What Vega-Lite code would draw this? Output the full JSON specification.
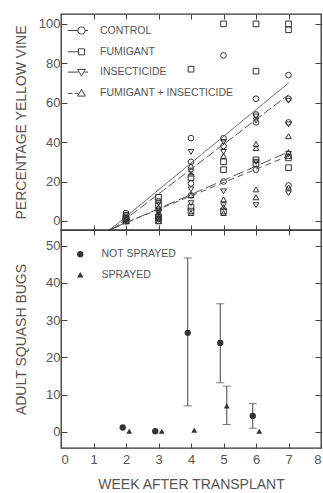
{
  "$schema": "https://vega.github.io/schema/vega-lite/v6.json",
  "padding": {"left": 13, "top": 12, "right": 0, "bottom": 0},
  "spacing": 0,
  "bounds": "flush",
  "config": {
    "font": "Liberation Sans",
    "view": {"stroke": "#333", "strokeWidth": 1.3},
    "axis": {"domain": false, "grid": false, "tickColor": "#444", "tickWidth": 1, "labelColor": "#555", "labelFontSize": 13, "titleColor": "#555", "titleFontSize": 14, "titleFontWeight": "normal", "labelFont": "Liberation Sans", "titleFont": "Liberation Sans"},
    "legend": {"labelFont": "Liberation Sans", "labelColor": "#555", "labelFontSize": 10.5}
  },
  "datasets": {
    "pts": [
      {"week": 2, "treatment": "CONTROL", "pct": 4}, {"week": 2, "treatment": "CONTROL", "pct": 3}, {"week": 2, "treatment": "CONTROL", "pct": 1}, {"week": 2, "treatment": "CONTROL", "pct": 0},
      {"week": 2, "treatment": "FUMIGANT", "pct": 2}, {"week": 2, "treatment": "FUMIGANT", "pct": 1}, {"week": 2, "treatment": "FUMIGANT", "pct": 0}, {"week": 2, "treatment": "FUMIGANT", "pct": 0},
      {"week": 2, "treatment": "INSECTICIDE", "pct": 3}, {"week": 2, "treatment": "INSECTICIDE", "pct": 1}, {"week": 2, "treatment": "INSECTICIDE", "pct": 0}, {"week": 2, "treatment": "INSECTICIDE", "pct": 0},
      {"week": 2, "treatment": "FUMIGANT + INSECTICIDE", "pct": 2}, {"week": 2, "treatment": "FUMIGANT + INSECTICIDE", "pct": 0}, {"week": 2, "treatment": "FUMIGANT + INSECTICIDE", "pct": 1}, {"week": 2, "treatment": "FUMIGANT + INSECTICIDE", "pct": 0},
      {"week": 3, "treatment": "CONTROL", "pct": 10}, {"week": 3, "treatment": "CONTROL", "pct": 6}, {"week": 3, "treatment": "CONTROL", "pct": 3}, {"week": 3, "treatment": "CONTROL", "pct": 1},
      {"week": 3, "treatment": "FUMIGANT", "pct": 12}, {"week": 3, "treatment": "FUMIGANT", "pct": 8}, {"week": 3, "treatment": "FUMIGANT", "pct": 2}, {"week": 3, "treatment": "FUMIGANT", "pct": 0},
      {"week": 3, "treatment": "INSECTICIDE", "pct": 9}, {"week": 3, "treatment": "INSECTICIDE", "pct": 5}, {"week": 3, "treatment": "INSECTICIDE", "pct": 4}, {"week": 3, "treatment": "INSECTICIDE", "pct": 1},
      {"week": 3, "treatment": "FUMIGANT + INSECTICIDE", "pct": 7}, {"week": 3, "treatment": "FUMIGANT + INSECTICIDE", "pct": 3}, {"week": 3, "treatment": "FUMIGANT + INSECTICIDE", "pct": 0}, {"week": 3, "treatment": "FUMIGANT + INSECTICIDE", "pct": 2},
      {"week": 4, "treatment": "CONTROL", "pct": 42}, {"week": 4, "treatment": "CONTROL", "pct": 30}, {"week": 4, "treatment": "CONTROL", "pct": 19}, {"week": 4, "treatment": "CONTROL", "pct": 13},
      {"week": 4, "treatment": "FUMIGANT", "pct": 77}, {"week": 4, "treatment": "FUMIGANT", "pct": 22}, {"week": 4, "treatment": "FUMIGANT", "pct": 7}, {"week": 4, "treatment": "FUMIGANT", "pct": 5},
      {"week": 4, "treatment": "INSECTICIDE", "pct": 35}, {"week": 4, "treatment": "INSECTICIDE", "pct": 25}, {"week": 4, "treatment": "INSECTICIDE", "pct": 16}, {"week": 4, "treatment": "INSECTICIDE", "pct": 9},
      {"week": 4, "treatment": "FUMIGANT + INSECTICIDE", "pct": 28}, {"week": 4, "treatment": "FUMIGANT + INSECTICIDE", "pct": 24}, {"week": 4, "treatment": "FUMIGANT + INSECTICIDE", "pct": 13}, {"week": 4, "treatment": "FUMIGANT + INSECTICIDE", "pct": 4},
      {"week": 5, "treatment": "CONTROL", "pct": 84}, {"week": 5, "treatment": "CONTROL", "pct": 42}, {"week": 5, "treatment": "CONTROL", "pct": 38}, {"week": 5, "treatment": "CONTROL", "pct": 20},
      {"week": 5, "treatment": "FUMIGANT", "pct": 100}, {"week": 5, "treatment": "FUMIGANT", "pct": 30}, {"week": 5, "treatment": "FUMIGANT", "pct": 26}, {"week": 5, "treatment": "FUMIGANT", "pct": 5},
      {"week": 5, "treatment": "INSECTICIDE", "pct": 40}, {"week": 5, "treatment": "INSECTICIDE", "pct": 35}, {"week": 5, "treatment": "INSECTICIDE", "pct": 15}, {"week": 5, "treatment": "INSECTICIDE", "pct": 8},
      {"week": 5, "treatment": "FUMIGANT + INSECTICIDE", "pct": 33}, {"week": 5, "treatment": "FUMIGANT + INSECTICIDE", "pct": 11}, {"week": 5, "treatment": "FUMIGANT + INSECTICIDE", "pct": 7}, {"week": 5, "treatment": "FUMIGANT + INSECTICIDE", "pct": 4},
      {"week": 6, "treatment": "CONTROL", "pct": 62}, {"week": 6, "treatment": "CONTROL", "pct": 54}, {"week": 6, "treatment": "CONTROL", "pct": 26}, {"week": 6, "treatment": "CONTROL", "pct": 50},
      {"week": 6, "treatment": "FUMIGANT", "pct": 100}, {"week": 6, "treatment": "FUMIGANT", "pct": 76}, {"week": 6, "treatment": "FUMIGANT", "pct": 31}, {"week": 6, "treatment": "FUMIGANT", "pct": 29},
      {"week": 6, "treatment": "INSECTICIDE", "pct": 51}, {"week": 6, "treatment": "INSECTICIDE", "pct": 53}, {"week": 6, "treatment": "INSECTICIDE", "pct": 8}, {"week": 6, "treatment": "INSECTICIDE", "pct": 30},
      {"week": 6, "treatment": "FUMIGANT + INSECTICIDE", "pct": 39}, {"week": 6, "treatment": "FUMIGANT + INSECTICIDE", "pct": 37}, {"week": 6, "treatment": "FUMIGANT + INSECTICIDE", "pct": 16}, {"week": 6, "treatment": "FUMIGANT + INSECTICIDE", "pct": 12},
      {"week": 7, "treatment": "CONTROL", "pct": 74}, {"week": 7, "treatment": "CONTROL", "pct": 62}, {"week": 7, "treatment": "CONTROL", "pct": 50}, {"week": 7, "treatment": "CONTROL", "pct": 18},
      {"week": 7, "treatment": "FUMIGANT", "pct": 100}, {"week": 7, "treatment": "FUMIGANT", "pct": 97}, {"week": 7, "treatment": "FUMIGANT", "pct": 32}, {"week": 7, "treatment": "FUMIGANT", "pct": 27},
      {"week": 7, "treatment": "INSECTICIDE", "pct": 61}, {"week": 7, "treatment": "INSECTICIDE", "pct": 49}, {"week": 7, "treatment": "INSECTICIDE", "pct": 34}, {"week": 7, "treatment": "INSECTICIDE", "pct": 14},
      {"week": 7, "treatment": "FUMIGANT + INSECTICIDE", "pct": 43}, {"week": 7, "treatment": "FUMIGANT + INSECTICIDE", "pct": 35}, {"week": 7, "treatment": "FUMIGANT + INSECTICIDE", "pct": 17}, {"week": 7, "treatment": "FUMIGANT + INSECTICIDE", "pct": 33}
    ],
    "fits": [
      {"week": 1.5, "treatment": "CONTROL", "pct": -4.6}, {"week": 7, "treatment": "CONTROL", "pct": 70},
      {"week": 1.55, "treatment": "FUMIGANT", "pct": -4.6}, {"week": 7, "treatment": "FUMIGANT", "pct": 64},
      {"week": 1.45, "treatment": "INSECTICIDE", "pct": -4.6}, {"week": 7, "treatment": "INSECTICIDE", "pct": 33},
      {"week": 1.5, "treatment": "FUMIGANT + INSECTICIDE", "pct": -4.6}, {"week": 7, "treatment": "FUMIGANT + INSECTICIDE", "pct": 35}
    ],
    "bugs": [
      {"week": 2, "group": "NOT SPRAYED", "mean": 1.2, "lo": null, "hi": null},
      {"week": 3, "group": "NOT SPRAYED", "mean": 0.2, "lo": null, "hi": null},
      {"week": 4, "group": "NOT SPRAYED", "mean": 26.6, "lo": 7.0, "hi": 46.7},
      {"week": 5, "group": "NOT SPRAYED", "mean": 23.9, "lo": 13.2, "hi": 34.4},
      {"week": 6, "group": "NOT SPRAYED", "mean": 4.3, "lo": 1.0, "hi": 7.6},
      {"week": 2, "group": "SPRAYED", "mean": 0.2, "lo": null, "hi": null},
      {"week": 3, "group": "SPRAYED", "mean": 0.2, "lo": null, "hi": null},
      {"week": 4, "group": "SPRAYED", "mean": 0.5, "lo": null, "hi": null},
      {"week": 5, "group": "SPRAYED", "mean": 7.0, "lo": 2.0, "hi": 12.3},
      {"week": 6, "group": "SPRAYED", "mean": 0.2, "lo": null, "hi": null}
    ]
  },
  "vconcat": [
    {
      "width": 260,
      "height": 216,
      "resolve": {"axis": {"x": "independent", "y": "independent"}, "scale": {"shape": "independent"}},
      "layer": [
        {
          "data": {"name": "pts"},
          "mark": {"type": "point", "filled": false, "size": 32, "strokeWidth": 1, "color": "#333", "opacity": 1},
          "encoding": {
            "x": {"field": "week", "type": "quantitative", "scale": {"domain": [0, 8], "nice": false, "zero": false},
                  "axis": {"orient": "bottom", "values": [1, 2, 3, 4, 5, 6, 7], "labels": false, "title": null, "tickSize": -5, "minExtent": 0, "maxExtent": 0}},
            "y": {"field": "pct", "type": "quantitative", "scale": {"domain": [-4.6, 105], "nice": false, "zero": false},
                  "axis": {"orient": "left", "values": [0, 20, 40, 60, 80, 100], "tickSize": -6, "labelPadding": 7,
                           "title": "PERCENTAGE YELLOW VINE", "titleX": -40, "titleY": 108, "titleAngle": -90, "titleBaseline": "middle", "titleAlign": "center"}},
            "shape": {"field": "treatment", "type": "nominal",
                      "scale": {"domain": ["CONTROL", "FUMIGANT", "INSECTICIDE", "FUMIGANT + INSECTICIDE"], "range": ["circle", "square", "triangle-down", "triangle-up"]},
                      "legend": null}
          }
        },
        {
          "data": {"name": "fits"},
          "mark": {"type": "line", "clip": true, "color": "#555", "strokeWidth": 1},
          "encoding": {
            "x": {"field": "week", "type": "quantitative",
                  "axis": {"orient": "top", "values": [1, 2, 3, 4, 5, 6, 7], "labels": false, "title": null, "tickSize": -5, "minExtent": 0, "maxExtent": 0}},
            "y": {"field": "pct", "type": "quantitative",
                  "axis": {"orient": "right", "values": [0, 20, 40, 60, 80, 100], "labels": false, "title": null, "tickSize": -6, "minExtent": 0, "maxExtent": 0}},
            "detail": {"field": "treatment"},
            "strokeDash": {"field": "treatment", "type": "nominal",
                           "scale": {"domain": ["CONTROL", "FUMIGANT", "INSECTICIDE", "FUMIGANT + INSECTICIDE"], "range": [[1, 0], [9, 3], [6, 4], [11, 4]]},
                           "legend": null}
          }
        },
        {
          "data": {"name": "fits"},
          "mark": {"type": "point", "opacity": 0},
          "encoding": {
            "x": {"field": "week", "type": "quantitative", "axis": null},
            "y": {"field": "pct", "type": "quantitative", "axis": null},
            "shape": {"field": "treatment", "type": "nominal",
                      "scale": {"domain": ["CONTROL", "FUMIGANT", "INSECTICIDE", "FUMIGANT + INSECTICIDE"],
                                "range": [
                                  "M-2.3,0H-0.6M0.6,0H1.1M0.6,0A0.6,0.6 0 1,1 -0.6,0A0.6,0.6 0 1,1 0.6,0",
                                  "M-2.3,0H-0.5M-0.5,-0.5H0.5V0.5H-0.5Z",
                                  "M-2.3,0H-0.55M0.55,0H1.1M-0.65,-0.45L0.65,-0.45L0,0.65Z",
                                  "M-2.3,0H-1.5M-1.15,0H-0.5M0,-0.65L0.65,0.45L-0.65,0.45Z"
                                ]},
                      "legend": {"orient": "none", "legendX": 14, "legendY": 10, "title": null, "padding": 0,
                                 "symbolSize": 144, "symbolStrokeColor": "#444", "symbolFillColor": "white", "symbolStrokeWidth": 1, "symbolOpacity": 1,
                                 "labelOffset": 12, "rowPadding": 8.3, "labelFontSize": 10.5, "labelColor": "#555"}}
          }
        }
      ]
    },
    {
      "width": 260,
      "height": 218,
      "data": {"name": "bugs"},
      "resolve": {"axis": {"x": "independent", "y": "independent"}},
      "layer": [
        {
          "transform": [{"filter": "datum.group == 'NOT SPRAYED' && datum.hi != null"}],
          "mark": {"type": "rule", "color": "#444", "strokeWidth": 1, "xOffset": -3.25},
          "encoding": {
            "x": {"field": "week", "type": "quantitative", "scale": {"domain": [0, 8], "nice": false, "zero": false},
                  "axis": {"orient": "bottom", "values": [0, 1, 2, 3, 4, 5, 6, 7, 8], "tickSize": -5, "labelPadding": 10,
                           "title": "WEEK AFTER TRANSPLANT", "titlePadding": 11}},
            "y": {"field": "lo", "type": "quantitative", "scale": {"domain": [-4.3, 54.2], "nice": false, "zero": false},
                  "axis": {"orient": "left", "values": [0, 10, 20, 30, 40, 50], "tickSize": -6, "labelPadding": 7,
                           "title": "ADULT SQUASH BUGS", "titleX": -40, "titleY": 109, "titleAngle": -90, "titleBaseline": "middle", "titleAlign": "center"}},
            "y2": {"field": "hi"}
          }
        },
        {
          "transform": [{"filter": "datum.group == 'NOT SPRAYED' && datum.hi != null"}],
          "mark": {"type": "tick", "orient": "horizontal", "size": 8, "thickness": 1, "color": "#444", "xOffset": -3.25},
          "encoding": {
            "x": {"field": "week", "type": "quantitative", "axis": null},
            "y": {"field": "lo", "type": "quantitative", "axis": null}
          }
        },
        {
          "transform": [{"filter": "datum.group == 'NOT SPRAYED' && datum.hi != null"}],
          "mark": {"type": "tick", "orient": "horizontal", "size": 8, "thickness": 1, "color": "#444", "xOffset": -3.25},
          "encoding": {
            "x": {"field": "week", "type": "quantitative", "axis": null},
            "y": {"field": "hi", "type": "quantitative", "axis": null}
          }
        },
        {
          "transform": [{"filter": "datum.group == 'SPRAYED' && datum.hi != null"}],
          "mark": {"type": "rule", "color": "#444", "strokeWidth": 1, "xOffset": 3.25},
          "encoding": {
            "x": {"field": "week", "type": "quantitative",
                  "axis": {"orient": "top", "values": [1, 2, 3, 4, 5, 6, 7], "labels": false, "title": null, "tickSize": -5, "minExtent": 0, "maxExtent": 0}},
            "y": {"field": "lo", "type": "quantitative",
                  "axis": {"orient": "right", "values": [0, 10, 20, 30, 40, 50], "labels": false, "title": null, "tickSize": -6, "minExtent": 0, "maxExtent": 0}},
            "y2": {"field": "hi"}
          }
        },
        {
          "transform": [{"filter": "datum.group == 'SPRAYED' && datum.hi != null"}],
          "mark": {"type": "tick", "orient": "horizontal", "size": 8, "thickness": 1, "color": "#444", "xOffset": 3.25},
          "encoding": {
            "x": {"field": "week", "type": "quantitative", "axis": null},
            "y": {"field": "lo", "type": "quantitative", "axis": null}
          }
        },
        {
          "transform": [{"filter": "datum.group == 'SPRAYED' && datum.hi != null"}],
          "mark": {"type": "tick", "orient": "horizontal", "size": 8, "thickness": 1, "color": "#444", "xOffset": 3.25},
          "encoding": {
            "x": {"field": "week", "type": "quantitative", "axis": null},
            "y": {"field": "hi", "type": "quantitative", "axis": null}
          }
        },
        {
          "transform": [{"filter": "datum.group == 'NOT SPRAYED'"}],
          "mark": {"type": "point", "filled": true, "size": 40, "color": "#333", "opacity": 1, "xOffset": -3.25},
          "encoding": {
            "x": {"field": "week", "type": "quantitative", "axis": null},
            "y": {"field": "mean", "type": "quantitative", "axis": null},
            "shape": {"field": "group", "type": "nominal",
                      "scale": {"domain": ["NOT SPRAYED", "SPRAYED"], "range": ["circle", "triangle-up"]},
                      "legend": {"orient": "none", "legendX": 14, "legendY": 235, "title": null, "padding": 0,
                                 "symbolSize": 40, "symbolFillColor": "#333", "symbolStrokeColor": "#333", "symbolOpacity": 1,
                                 "labelOffset": 16, "rowPadding": 7.5, "labelFontSize": 10.5, "labelColor": "#555"}}
          }
        },
        {
          "transform": [{"filter": "datum.group == 'SPRAYED'"}],
          "mark": {"type": "point", "filled": true, "size": 34, "color": "#333", "opacity": 1, "xOffset": 3.25},
          "encoding": {
            "x": {"field": "week", "type": "quantitative", "axis": null},
            "y": {"field": "mean", "type": "quantitative", "axis": null},
            "shape": {"field": "group", "type": "nominal"}
          }
        }
      ]
    }
  ]
}
